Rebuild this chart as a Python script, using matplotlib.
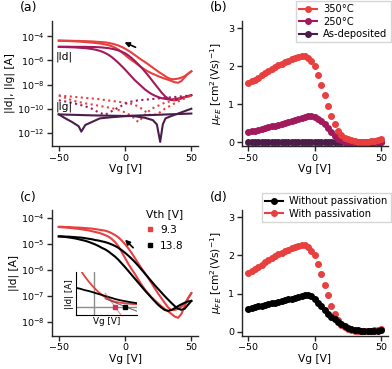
import numpy as np
import matplotlib
matplotlib.use("Agg")
import matplotlib.pyplot as plt
from matplotlib.lines import Line2D
from matplotlib.ticker import NullLocator
import seaborn as sns

# --- colours (rocket palette) ---
rocket = sns.color_palette("rocket", 4)
C_ASDEP, C_250, C_350 = rocket[0], rocket[1], rocket[2]
C_BLACK = "k"

# --- sweep grid used by the transfer / mobility curves ---
vg = np.arange(-50, 50.1, 2.5)

# --- (a)/(c) transfer curves, log10(|Id| / A) on vg grid ---
red_fwd = [-4.36, -4.37, -4.38, -4.39, -4.40, -4.42, -4.43, -4.45, -4.47, -4.49,
           -4.52, -4.55, -4.58, -4.62, -4.67, -4.73, -4.82, -4.94, -5.10, -5.32,
           -5.55, -5.78, -5.98, -6.17, -6.38, -6.58, -6.76, -6.92, -7.06, -7.18,
           -7.30, -7.41, -7.51, -7.60, -7.70, -7.80, -7.85, -7.70, -7.40, -7.10, -6.90]
red_rev = [-4.35, -4.35, -4.36, -4.36, -4.37, -4.38, -4.38, -4.39, -4.40, -4.41,
           -4.42, -4.44, -4.46, -4.48, -4.50, -4.54, -4.60, -4.67, -4.76, -4.88,
           -5.02, -5.18, -5.36, -5.56, -5.76, -5.95, -6.13, -6.32, -6.52, -6.72,
           -6.92, -7.10, -7.28, -7.45, -7.55, -7.55, -7.50, -7.42, -7.30, -7.10, -6.90]

mag_fwd = [-4.88, -4.88, -4.89, -4.90, -4.91, -4.92, -4.94, -4.96, -4.98, -5.01,
           -5.05, -5.10, -5.17, -5.26, -5.38, -5.53, -5.72, -5.95, -6.20, -6.47,
           -6.75, -7.05, -7.35, -7.65, -7.90, -8.15, -8.40, -8.60, -8.78, -8.92,
           -9.03, -9.12, -9.18, -9.22, -9.23, -9.20, -9.15, -9.10, -9.03, -8.96, -8.88]
mag_rev = [-4.86, -4.86, -4.86, -4.86, -4.87, -4.87, -4.87, -4.87, -4.87, -4.88,
           -4.88, -4.89, -4.90, -4.92, -4.95, -4.98, -5.03, -5.09, -5.17, -5.27,
           -5.40, -5.58, -5.80, -6.05, -6.32, -6.60, -6.92, -7.25, -7.60, -7.95,
           -8.30, -8.65, -8.95, -9.15, -9.28, -9.30, -9.25, -9.15, -9.05, -8.95, -8.88]

blk_fwd = [-4.72, -4.73, -4.74, -4.76, -4.78, -4.80, -4.83, -4.86, -4.89, -4.93,
           -4.98, -5.03, -5.09, -5.16, -5.22, -5.30, -5.40, -5.50, -5.62, -5.76,
           -5.90, -6.05, -6.20, -6.35, -6.50, -6.65, -6.80, -6.94, -7.08, -7.22,
           -7.35, -7.46, -7.55, -7.58, -7.55, -7.48, -7.40, -7.33, -7.27, -7.22, -7.20]
blk_rev = [-4.72, -4.72, -4.73, -4.73, -4.74, -4.75, -4.76, -4.77, -4.79, -4.81,
           -4.83, -4.86, -4.88, -4.91, -4.94, -4.98, -5.03, -5.09, -5.16, -5.25,
           -5.35, -5.46, -5.58, -5.71, -5.85, -6.00, -6.15, -6.30, -6.45, -6.60,
           -6.74, -6.88, -7.02, -7.15, -7.28, -7.40, -7.50, -7.54, -7.50, -7.35, -7.20]

# --- (a) gate leakage, log10(|Ig| / A) ---
ig_vg = np.arange(-50, 50.1, 5)
ig_350_a = [-8.9, -8.95, -9.0, -9.05, -9.1, -9.15, -9.2, -9.28, -9.35, -9.42,
            -9.5, -9.6, -9.8, -10.2, -10.6, -10.4, -10.0, -9.7, -9.4, -9.15, -8.9]
ig_350_b = [-8.9, -9.1, -9.3, -9.45, -9.55, -9.65, -9.75, -9.85, -9.95, -10.1,
            -10.3, -10.6, -11.1, -10.5, -10.0, -9.75, -9.5, -9.35, -9.2, -9.05, -8.9]
ig_250_a = [-9.3, -9.4, -9.5, -9.65, -9.8, -10.0, -10.3, -10.5, -10.2, -9.9,
            -9.6, -9.4, -9.3, -9.25, -9.2, -9.15, -9.1, -9.05, -9.0, -8.95, -8.9]

# --- (a) as-deposited |Id| ---
asd_vg1 = [-50, -25, 0, 25, 50]
asd_id1 = [-10.47, -10.55, -10.6, -10.5, -10.4]
asd_vg2 = [-50, -45, -40, -35, -33, -30, -25, -19, -10, 0, 6, 15, 21, 24, 26.5,
           28.5, 30.5, 35, 40, 45, 50]
asd_id2 = [-10.47, -10.8, -11.1, -11.45, -11.9, -11.35, -11.1, -10.8, -10.7, -10.62,
           -10.6, -10.75, -10.95, -11.3, -12.75, -11.3, -10.8, -10.6, -10.4, -10.2, -10.0]

# --- (b)/(d) field-effect mobility [cm2/Vs] on vg grid ---
mu_350 = [1.55, 1.60, 1.65, 1.70, 1.76, 1.82, 1.88, 1.94, 1.99, 2.03,
          2.07, 2.11, 2.15, 2.19, 2.22, 2.25, 2.27, 2.27, 2.22, 2.13,
          2.00, 1.77, 1.52, 1.24, 0.96, 0.69, 0.47, 0.30, 0.19, 0.12,
          0.08, 0.05, 0.03, 0.02, 0.015, 0.015, 0.02, 0.03, 0.04, 0.06, 0.08]
mu_250 = [0.27, 0.29, 0.31, 0.33, 0.35, 0.37, 0.39, 0.42, 0.44, 0.46,
          0.49, 0.51, 0.54, 0.56, 0.59, 0.62, 0.65, 0.67, 0.68, 0.68,
          0.66, 0.62, 0.56, 0.47, 0.37, 0.26, 0.17, 0.10, 0.05, 0.02,
          0.01, 0.005, 0.0, 0.0, 0.0, 0.0, 0.0, 0.0, 0.0, 0.0, 0.0]
mu_asd = [0.0] * 41
mu_nopass = [0.61, 0.63, 0.65, 0.67, 0.69, 0.71, 0.73, 0.75, 0.77, 0.79,
             0.81, 0.83, 0.85, 0.87, 0.89, 0.92, 0.95, 0.97, 0.97, 0.93,
             0.86, 0.77, 0.67, 0.57, 0.48, 0.40, 0.33, 0.26, 0.20, 0.15,
             0.11, 0.08, 0.06, 0.045, 0.035, 0.03, 0.025, 0.025, 0.03, 0.035, 0.045]

# --- (c) inset: linear extrapolation of Vth ---
ins_vg = [-8, -6, -4, -2, 0, 2, 4, 6, 8, 10, 12, 14, 16, 18, 19]
ins_red = [1.30, 1.08, 0.88, 0.71, 0.56, 0.43, 0.32, 0.24, 0.17, 0.13,
           0.11, 0.095, 0.08, 0.07, 0.065]
ins_blk = [0.55, 0.52, 0.48, 0.45, 0.41, 0.37, 0.33, 0.29, 0.25, 0.21,
           0.18, 0.155, 0.13, 0.11, 0.10]
vth_labels = ["9.3", "13.8"]
vth_values = [9.3, 13.8]
ext_red_x = [5.0, 13.5]
ext_red_y = [0.39, -0.38]
ext_blk_x = [5.0, 19.0]
ext_blk_y = [0.23, -0.135]

TICK_FS = 6.8
LABEL_FS = 7.7
LEG_FS = 7.1


def style(ax):
    for s in ["top", "right"]:
        ax.spines[s].set_visible(False)
    for s in ["left", "bottom"]:
        ax.spines[s].set_color("0.15")
        ax.spines[s].set_linewidth(1.0)
    ax.tick_params(direction="out", length=3.5, width=1.0, labelsize=TICK_FS,
                   color="0.15", pad=2)
    ax.set_xticks([-50, 0, 50])


def p(v):
    return 10.0 ** np.asarray(v)


fig = plt.figure(figsize=(3.92, 3.69), dpi=100)
ax_a = fig.add_axes([0.133, 0.604, 0.372, 0.340])
ax_b = fig.add_axes([0.617, 0.604, 0.372, 0.340])
ax_c = fig.add_axes([0.133, 0.090, 0.372, 0.342])
ax_d = fig.add_axes([0.617, 0.090, 0.372, 0.342])

# --- (a) ---
ax_a.set_yscale("log")
ax_a.plot(vg, p(red_fwd), color=C_350, lw=1.5)
ax_a.plot(vg, p(red_rev), color=C_350, lw=1.5)
ax_a.plot(vg, p(mag_fwd), color=C_250, lw=1.5)
ax_a.plot(vg, p(mag_rev), color=C_250, lw=1.5)
ax_a.plot(ig_vg, p(ig_350_a), color=C_350, lw=1.5, ls=":")
ax_a.plot(ig_vg, p(ig_350_b), color=C_350, lw=1.5, ls=":")
ax_a.plot(ig_vg, p(ig_250_a), color=C_250, lw=1.5, ls=":")
ax_a.plot(asd_vg1, p(asd_id1), color=C_ASDEP, lw=1.5)
ax_a.plot(asd_vg2, p(asd_id2), color=C_ASDEP, lw=1.5)
ax_a.annotate("", xy=(-2.3, 10 ** -4.4), xytext=(9.8, 10 ** -5.0),
              arrowprops=dict(arrowstyle="-|>", color="k", lw=1.2, mutation_scale=7))
ax_a.text(-52, 10 ** -5.7, "|Id|", fontsize=LABEL_FS, va="center")
ax_a.text(-52, 10 ** -9.8, "|Ig|", fontsize=LABEL_FS, va="center")
ax_a.set_ylim(10 ** -13.1, 10 ** -2.7)
ax_a.set_xlim(-55, 55)
ax_a.set_yticks([1e-4, 1e-6, 1e-8, 1e-10, 1e-12])
ax_a.yaxis.set_minor_locator(NullLocator())
ax_a.set_xlabel("Vg [V]", fontsize=LABEL_FS, labelpad=1)
ax_a.set_ylabel("|Id|, |Ig| [A]", fontsize=LABEL_FS, labelpad=1)
style(ax_a)

# --- (b) ---
ms = 4
ax_b.plot(vg, mu_asd, "o", color=C_ASDEP, ms=ms)
ax_b.plot(vg, mu_250, "o", color=C_250, ms=ms)
ax_b.plot(vg, mu_350, "o", color=C_350, ms=ms)
handles_b = [Line2D([], [], color=c, marker="o", ms=ms, lw=1.5) for c in (C_350, C_250, C_ASDEP)]
ax_b.legend(handles_b, ["350°C", "250°C", "As-deposited"], loc="upper right",
            bbox_to_anchor=(1.0, 1.0), bbox_transform=fig.transFigure, fontsize=LEG_FS,
            labelspacing=0.25, handlelength=1.9, borderaxespad=0.15, borderpad=0.3,
            handletextpad=0.6, fancybox=False)
ax_b.set_ylim(-0.1, 3.2)
ax_b.set_xlim(-55, 55)
ax_b.set_yticks([0, 1, 2, 3])
ax_b.set_xlabel("Vg [V]", fontsize=LABEL_FS, labelpad=1)
ax_b.set_ylabel(r"$\mu_{FE}$ [cm$^2$(Vs)$^{-1}$]", fontsize=LABEL_FS, labelpad=3)
style(ax_b)

# --- (c) ---
ax_c.set_yscale("log")
ax_c.plot(vg, p(red_fwd), color=C_350, lw=1.5)
ax_c.plot(vg, p(red_rev), color=C_350, lw=1.5)
ax_c.plot(vg, p(blk_fwd), color=C_BLACK, lw=1.5)
ax_c.plot(vg, p(blk_rev), color=C_BLACK, lw=1.5)
ax_c.annotate("", xy=(-1.5, 10 ** -4.77), xytext=(7.6, 10 ** -5.23),
              arrowprops=dict(arrowstyle="-|>", color="k", lw=1.2, mutation_scale=7))
handles_c = [Line2D([], [], color=c, marker="s", ms=2.5, ls="") for c in (C_350, C_BLACK)]
ax_c.legend(handles_c, vth_labels, title="Vth [V]", loc="upper right",
            bbox_to_anchor=(0.97, 1.08), frameon=False, fontsize=LABEL_FS,
            title_fontsize=LABEL_FS, handlelength=0.8, handletextpad=0.6, labelspacing=0.55)
ax_c.set_ylim(10 ** -8.54, 10 ** -3.69)
ax_c.set_xlim(-55, 55)
ax_c.set_yticks([1e-4, 1e-5, 1e-6, 1e-7, 1e-8])
ax_c.yaxis.set_minor_locator(NullLocator())
ax_c.set_xlabel("Vg [V]", fontsize=LABEL_FS, labelpad=1)
ax_c.set_ylabel("|Id| [A]", fontsize=LABEL_FS, labelpad=1)
style(ax_c)

# inset
ax_i = fig.add_axes([0.193, 0.146, 0.156, 0.116])
ax_i.axvline(0, color="0.55", lw=1)
ax_i.axhline(0, color="0.55", lw=1)
ax_i.plot(ins_vg, ins_red, color=C_350, lw=1.3)
ax_i.plot(ins_vg, ins_blk, color=C_BLACK, lw=1.3)
ax_i.plot(ext_red_x, ext_red_y, color=C_350, lw=0.8, alpha=0.6)
ax_i.plot(ext_blk_x, ext_blk_y, color="0.3", lw=0.8, alpha=0.8)
ax_i.plot(vth_values[0], 0, "s", color="#d0305a", ms=2.5)
ax_i.plot(vth_values[1], 0, "s", color=C_BLACK, ms=2.5)
ax_i.set_xlim(-8, 19)
ax_i.set_ylim(-0.25, 1.0)
ax_i.set_xticks([])
ax_i.set_yticks([])
ax_i.patch.set_alpha(0)
for s in ["top", "right"]:
    ax_i.spines[s].set_visible(False)
ax_i.set_xlabel("Vg [V]", fontsize=6.3, labelpad=1)
ax_i.set_ylabel("|Id| [A]", fontsize=6.3, labelpad=1)

# --- (d) ---
ax_d.plot(vg, mu_350, "o", color=C_350, ms=ms)
ax_d.plot(vg, mu_nopass, "o", color=C_BLACK, ms=ms)
handles_d = [Line2D([], [], color=c, marker="o", ms=ms, lw=1.5) for c in (C_BLACK, C_350)]
ax_d.legend(handles_d, ["Without passivation", "With passivation"], loc="upper right",
            bbox_to_anchor=(1.0, 1 - 192 / 369), bbox_transform=fig.transFigure,
            fontsize=LEG_FS, labelspacing=0.25, handlelength=1.9, borderaxespad=0.15,
            borderpad=0.3, handletextpad=0.6, fancybox=False)
ax_d.set_ylim(-0.1, 3.2)
ax_d.set_xlim(-55, 55)
ax_d.set_yticks([0, 1, 2, 3])
ax_d.set_xlabel("Vg [V]", fontsize=LABEL_FS, labelpad=1)
ax_d.set_ylabel(r"$\mu_{FE}$ [cm$^2$(Vs)$^{-1}$]", fontsize=LABEL_FS, labelpad=3)
style(ax_d)

# panel labels
for lbl, x, y in [("(a)", 20, 8), ("(b)", 210, 8), ("(c)", 20, 197), ("(d)", 210, 197)]:
    fig.text(x / 392, 1 - y / 369, lbl, fontsize=9, va="center", ha="left")

fig.savefig("out.png", dpi=100)
